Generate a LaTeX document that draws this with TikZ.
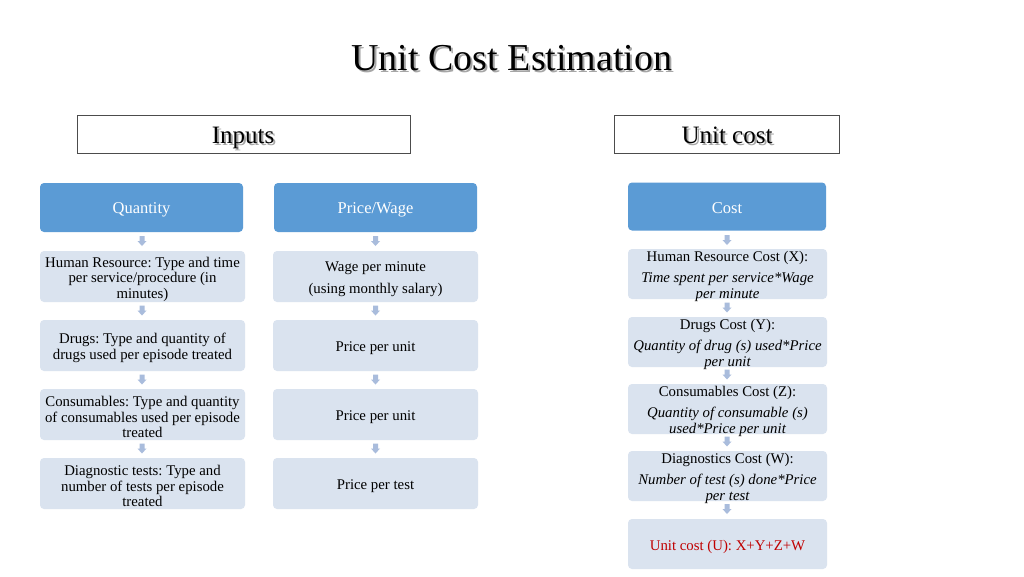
\documentclass[tikz,border=0pt]{standalone}
\usepackage{fontspec}
\setmainfont{Liberation Serif}
\frenchspacing
\definecolor{hdr}{HTML}{5B9BD5}
\definecolor{lite}{HTML}{DAE3EF}
\definecolor{arr}{HTML}{A9BCDC}
\definecolor{redtxt}{HTML}{C00000}
\tikzset{
  hdrbox/.style={fill=hdr, rounded corners=4pt, inner sep=0pt},
  hdrtxt/.style={text=white, font=\fontsize{16.5}{19}\selectfont, align=center, inner sep=0pt, yshift=-2.5pt},
  litebox/.style={fill=lite, rounded corners=4pt, inner sep=0pt},
  litetxt/.style={font=\fontsize{14.8}{15.5}\selectfont, align=center, inner sep=0pt, yshift=-2.5pt},
  costtxt/.style={font=\fontsize{14.8}{16}\selectfont, align=center, inner sep=0pt, yshift=-2.5pt},
  lbox/.style={litebox, minimum width=205pt, minimum height=51pt},
  rbox/.style={litebox, minimum width=199pt, minimum height=50pt},
  framebox/.style={draw=black!70, line width=0.8pt, fill=white},
  bigtxt/.style={font=\fontsize{25}{28}\selectfont, inner sep=0pt, anchor=base},
}
\newcommand{\downarr}[2]{%
  \fill[arr] (#1-2.5,#2) -- (#1+2.5,#2) -- (#1+2.5,#2+5) -- (#1+4.5,#2+5) -- (#1,#2+10) -- (#1-4.5,#2+5) -- (#1-2.5,#2+5) -- cycle;}
\begin{document}
\begin{tikzpicture}[x=1pt,y=-1pt]
\useasboundingbox (0,0) rectangle (1024,576);
\fill[white] (0,0) rectangle (1024,576);
% title with shadow
\node[text=black!35, font=\fontsize{38}{42}\selectfont] (tsh) at (514,60) {Unit Cost Estimation};
\node[font=\fontsize{38}{42}\selectfont] (title) at (512,58) {Unit Cost Estimation};
% top frame boxes
\draw[framebox] (77,115) rectangle (410,153);
\node[bigtxt, text=black!35] (insh) at (245,145) {Inputs};
\node[bigtxt] (inputs) at (243,143) {Inputs};
\draw[framebox] (614,115) rectangle (839,153);
\node[bigtxt, text=black!35] (ucsh) at (729,145) {Unit cost};
\node[bigtxt] (unitcost) at (727,143) {Unit cost};
% headers
\node[hdrbox, minimum width=203pt, minimum height=49pt] (q) at (141.5,207.5) {};
\node[hdrtxt] (qt) at (q.center) {Quantity};
\node[hdrbox, minimum width=203pt, minimum height=49pt] (p) at (375.5,207.5) {};
\node[hdrtxt] (pt) at (p.center) {Price/Wage};
\node[hdrbox, minimum width=198pt, minimum height=48pt] (c) at (727,206.5) {};
\node[hdrtxt, yshift=1pt] (ct) at (c.center) {Cost};
% left column
\node[lbox] (q1) at (142.5,276.5) {};
\node[litetxt] (q1t) at (q1.center) {Human Resource: Type and time\\ per service/procedure (in\\ minutes)};
\node[lbox] (q2) at (142.5,345.5) {};
\node[litetxt] (q2t) at (q2.center) {Drugs: Type and quantity of\\ drugs used per episode treated};
\node[lbox] (q3) at (142.5,414.5) {};
\node[litetxt] (q3t) at (q3.center) {Consumables: Type and quantity\\ of consumables used per episode\\ treated};
\node[lbox] (q4) at (142.5,483.5) {};
\node[litetxt] (q4t) at (q4.center) {Diagnostic tests: Type and\\ number of tests per episode\\ treated};
% middle column
\node[lbox] (p1) at (375.5,276.5) {};
\node[litetxt] (p1t) at (p1.center) {Wage per minute\\[6.5pt] (using monthly salary)};
\node[lbox] (p2) at (375.5,345.5) {};
\node[litetxt] (p2t) at (p2.center) {Price per unit};
\node[lbox] (p3) at (375.5,414.5) {};
\node[litetxt] (p3t) at (p3.center) {Price per unit};
\node[lbox] (p4) at (375.5,483.5) {};
\node[litetxt] (p4t) at (p4.center) {Price per test};
% right column
\node[rbox] (c1) at (727.5,274) {};
\node[costtxt] (c1t) at (c1.center) {Human Resource Cost (X):\\[5pt] \itshape Time spent per service*Wage\\ \itshape per minute};
\node[rbox] (c2) at (727.5,342) {};
\node[costtxt] (c2t) at (c2.center) {Drugs Cost (Y):\\[5pt] \itshape Quantity of drug (s) used*Price\\ \itshape per unit};
\node[rbox] (c3) at (727.5,409) {};
\node[costtxt] (c3t) at (c3.center) {Consumables Cost (Z):\\[5pt] \itshape Quantity of consumable (s)\\ \itshape used*Price per unit};
\node[rbox] (c4) at (727.5,476) {};
\node[costtxt] (c4t) at (c4.center) {Diagnostics Cost (W):\\[5pt] \itshape Number of test (s) done*Price\\ \itshape per test};
\node[rbox] (c5) at (727.5,544) {};
\node[litetxt, text=redtxt] (c5t) at (c5.center) {Unit cost (U): X+Y+Z+W};
% small block arrows
\downarr{142}{236}
\downarr{142}{305.5}
\downarr{142}{374.5}
\downarr{142}{443.5}
\downarr{375.5}{236}
\downarr{375.5}{305.5}
\downarr{375.5}{374.5}
\downarr{375.5}{443.5}
\downarr{727}{235}
\downarr{727}{302.5}
\downarr{727}{369.5}
\downarr{727}{436.5}
\downarr{727}{504}
\end{tikzpicture}
\end{document}
